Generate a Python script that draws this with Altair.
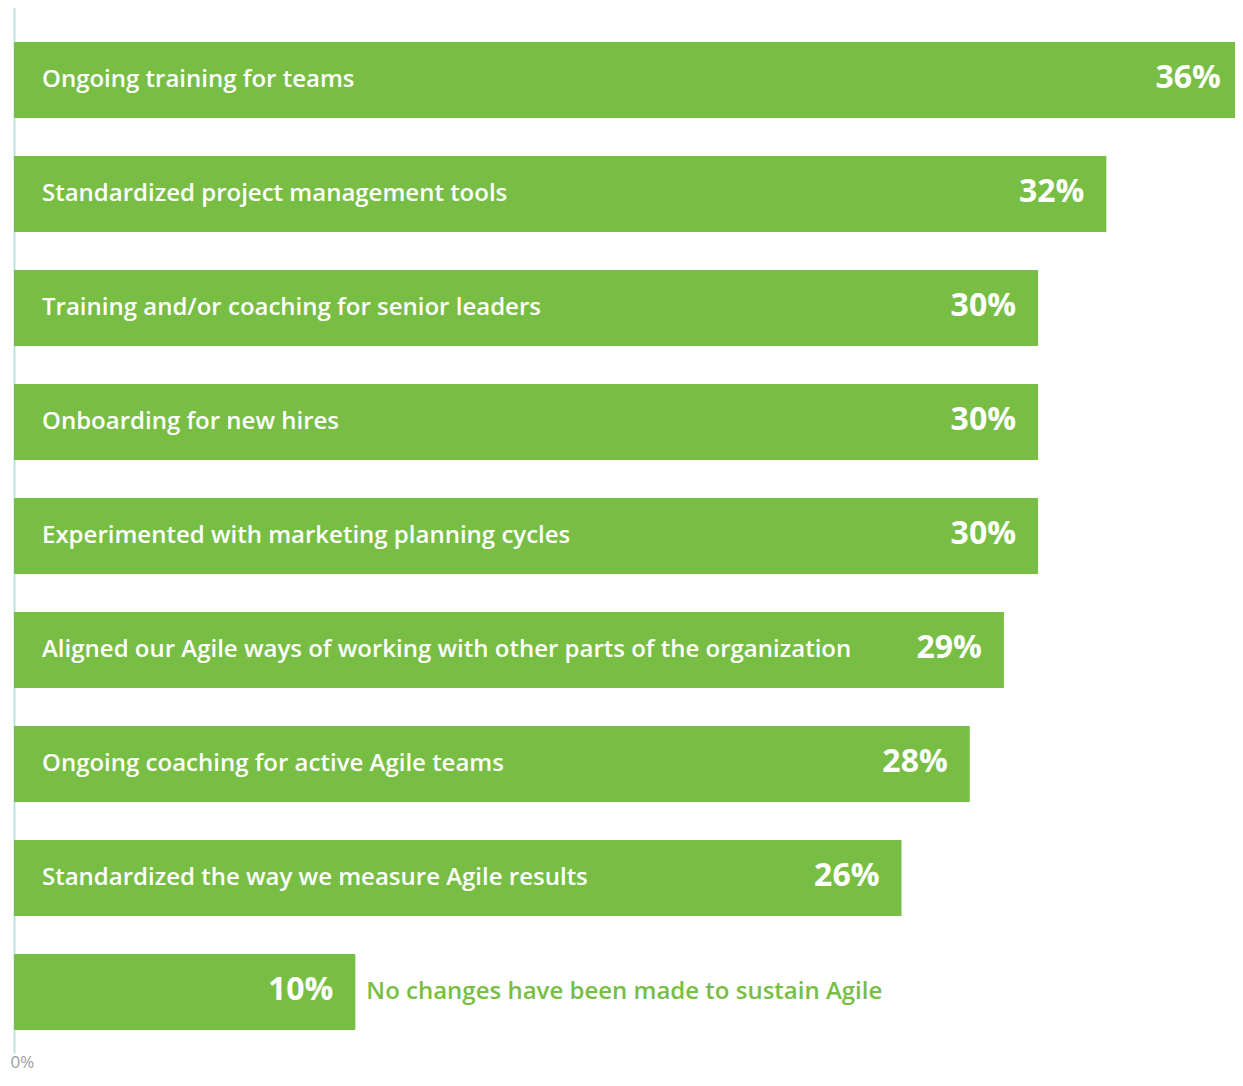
import altair as alt
import pandas as pd

categories = [
    "Ongoing training for teams",
    "Standardized project management tools",
    "Training and/or coaching for senior leaders",
    "Onboarding for new hires",
    "Experimented with marketing planning cycles",
    "Aligned our Agile ways of working with other parts of the organization",
    "Ongoing coaching for active Agile teams",
    "Standardized the way we measure Agile results",
    "No changes have been made to sustain Agile",
]
values = [36, 32, 30, 30, 30, 29, 28, 26, 10]
label_inside = [True, True, True, True, True, True, True, True, False]
axis_ticks = [0]

df = pd.DataFrame({"category": categories, "value": values, "inside": label_inside})
df["pct"] = df["value"].astype(str) + "%"

GREEN = "#78BE44"
FONT = "Open Sans"

y = alt.Y(
    "category:N",
    sort=categories,
    title=None,
    scale=alt.Scale(paddingInner=0.333, paddingOuter=0.2675, align=0.623),
    axis=alt.Axis(labels=False, ticks=False, grid=False, domainColor="#B8E4DD", domainWidth=2),
)
# the longest bar runs past the right edge of the picture, as in the reference
x_scale = alt.Scale(domain=[0, 35.77], nice=False, zero=True)
x = alt.X(
    "value:Q",
    scale=x_scale,
    title=None,
    axis=alt.Axis(
        values=axis_ticks, labelExpr="datum.value + '%'", domain=False, ticks=False, grid=False,
        labelAlign="center", labelOffset=8, labelFontSize=17, labelColor="#A0A0A0", labelFont=FONT,
        labelPadding=1, labelBaseline="top",
    ),
)

base = alt.Chart(df)
bars = base.mark_bar(color=GREEN, clip=True).encode(x=x, y=y)

y_plain = alt.Y("category:N", sort=categories)

inside_text = base.transform_filter("datum.inside").mark_text(
    align="left", baseline="middle", dx=28, color="white", fontSize=24, fontWeight=600, font=FONT
).encode(x=alt.datum(0), y=y_plain, text="category:N")

outside_text = base.transform_filter("!datum.inside").mark_text(
    align="left", baseline="middle", dx=11, color=GREEN, fontSize=24, fontWeight=600, font=FONT
).encode(x="value:Q", y=y_plain, text="category:N")

value_text = base.mark_text(
    align="right", baseline="middle", dx=-22, dy=-2, color="white", fontSize=32, fontWeight="bold", font=FONT
).encode(x="value:Q", y=y_plain, text="pct:N")

chart = alt.layer(bars, inside_text, outside_text, value_text).properties(
    width=1221,
    height=1049,
    autosize=alt.AutoSizeParams(type="none"),
    padding={"left": 6, "top": -4, "right": 0, "bottom": 21},
).configure_view(stroke=None)

chart.save("out.html", embed_options={"renderer": "svg", "actions": False})
